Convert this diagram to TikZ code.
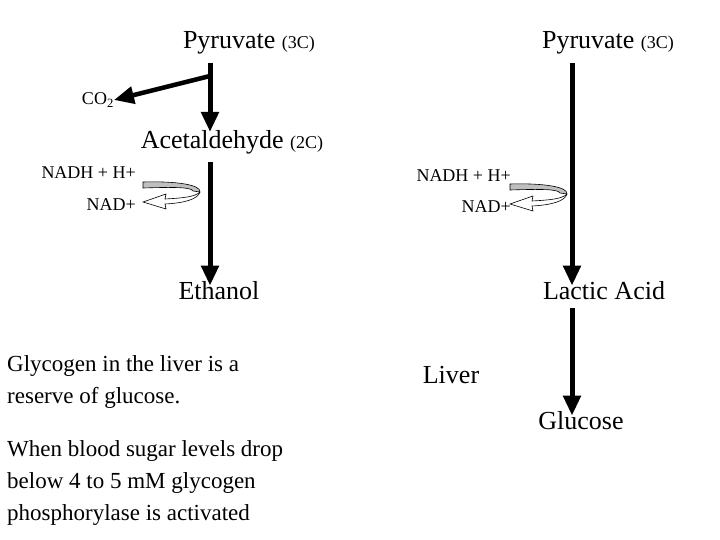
\documentclass[tikz,border=0pt]{standalone}
\usepackage{fontspec}
\setmainfont{Liberation Serif}
\usetikzlibrary{arrows.meta, positioning}
\tikzset{
    x=1pt, y=-1pt,
    big/.style = {font=\fontsize{26}{28}\selectfont, inner sep=0pt},
    small/.style = {font=\fontsize{18}{20}\selectfont, inner sep=0pt},
    para/.style = {font=\fontsize{23}{32}\selectfont, inner sep=0pt, align=left, anchor=north west},
    path step/.style = {line width=5pt, -{Triangle[width=17pt,length=20pt]}},
    recycle/.pic = {% gray band round, white head back
        \filldraw[fill=black!25, line width=0.6pt] (0,-5) .. controls (35,-6) and (58,-2) .. (57,5)
            -- (50,4) .. controls (48,0) and (30,0) .. (0,1) -- cycle;
        \filldraw[fill=white, line width=0.6pt] (57,5) .. controls (52,10) and (40,11) .. (22,12)
            -- (23,7) -- (0,15) -- (23,22) -- (22,17) .. controls (42,16) and (55,12) .. (57,5);
    }
}
\begin{document}
\begin{tikzpicture}
  \useasboundingbox (0,0) rectangle (720,540);
  \coordinate (axisL) at (210,0);
  \coordinate (axisR) at (572,0);
  % fermentation to ethanol
  \node [big] (pyrL) at (249,43) {Pyruvate {\fontsize{18}{20}\selectfont (3C)}};
  \node [big] (acet) at (232,142) {Acetaldehyde {\fontsize{18}{20}\selectfont (2C)}};
  \node [big] (eth) at (219,291) {Ethanol};
  \node [small, anchor=east] (co2) at (114,100) {CO\textsubscript{2}};
  \node [small, anchor=east] (nadhL) at (136,173) {NADH + H+};
  \node [small, anchor=east] (nadL) at (136,205) {NAD+};
  \draw [path step] (axisL |- pyrL.south) ++(0,8) -- ([yshift=-2pt]axisL |- acet.north);
  \draw [path step, line width=4.5pt] (210,76) -- (co2.east);
  \draw [path step] (axisL |- acet.south) ++(0,8) -- ([yshift=-4pt]axisL |- eth.north);
  \pic at (143,187) {recycle};
  % lactic acid
  \node [big] (pyrR) at (608,43) {Pyruvate {\fontsize{18}{20}\selectfont (3C)}};
  \node [big] (lac) at (604,291) {Lactic Acid};
  \node [big] (glu) at (581,421) {Glucose};
  \node [big] (liver) at (451,375) {Liver};
  \node [small, anchor=east] (nadhR) at (511,176) {NADH + H+};
  \node [small, anchor=east] (nadR) at (511,207) {NAD+};
  \draw [path step] (axisR |- pyrR.south) ++(0,8) -- ([yshift=-4pt]axisR |- lac.north);
  \draw [path step] (axisR |- lac.south) ++(0,8) -- ([yshift=-4pt]axisR |- glu.north);
  \pic at (510,189) {recycle};
  % notes
  \node [para] (note1) at (7,355) {Glycogen in the liver is a\\reserve of glucose.};
  \node [para] (note2) at (7,440) {When blood sugar levels drop\\below 4 to 5 mM glycogen\\phosphorylase is activated};
\end{tikzpicture}
\end{document}
